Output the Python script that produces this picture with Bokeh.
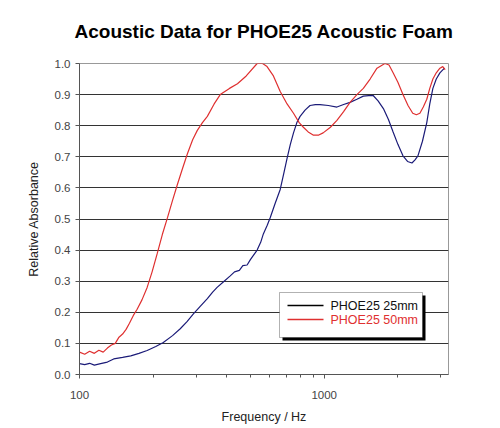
from bokeh.plotting import figure
from bokeh.models import (FixedTicker, NumeralTickFormatter, BoxAnnotation, Label,
                          Arrow, Range1d)
from bokeh.embed import file_html
from bokeh.resources import INLINE

# ---- data ----
freq_50 = [100, 105, 110, 115, 120, 125, 130, 135, 140, 145, 150, 155, 160, 166,
           172, 180, 189, 198, 208, 218, 229, 240, 251, 263, 276, 290, 303, 318,
           333, 355, 376, 410, 442, 480, 532, 560, 584, 620, 661, 705, 749, 790,
           822, 860, 901, 950, 990, 1060, 1127, 1200, 1275, 1360, 1445, 1540,
           1643, 1770, 1840, 1912, 2000, 2098, 2200, 2300, 2380, 2460, 2540,
           2625, 2700, 2780, 2870, 2970, 3050, 3120]
abs_50 = [0.072, 0.065, 0.075, 0.068, 0.078, 0.072, 0.085, 0.095, 0.10, 0.12,
          0.13, 0.145, 0.165, 0.19, 0.21, 0.24, 0.28, 0.33, 0.39, 0.45, 0.505,
          0.56, 0.61, 0.66, 0.71, 0.755, 0.785, 0.81, 0.83, 0.87, 0.90, 0.92,
          0.935, 0.96, 1.0, 1.0, 0.99, 0.96, 0.91, 0.87, 0.84, 0.81, 0.795,
          0.78, 0.77, 0.77, 0.777, 0.795, 0.817, 0.845, 0.875, 0.90, 0.92,
          0.95, 0.985, 1.0, 0.995, 0.97, 0.94, 0.90, 0.865, 0.84, 0.835, 0.84,
          0.86, 0.885, 0.92, 0.95, 0.97, 0.985, 0.99, 0.98]

freq_25 = [100, 105, 110, 115, 122, 130, 138, 150, 162, 175, 189, 205, 220, 240,
           258, 275, 292, 312, 333, 350, 365, 390, 413, 430, 450, 465, 484, 500,
           532, 550, 564, 585, 602, 630, 661, 685, 705, 727, 749, 773, 797, 835,
           875, 920, 961, 1040, 1127, 1200, 1275, 1360, 1445, 1520, 1585, 1660,
           1745, 1830, 1912, 2000, 2098, 2190, 2283, 2350, 2415, 2520, 2625,
           2700, 2780, 2870, 2970, 3100]
abs_25 = [0.035, 0.032, 0.036, 0.030, 0.035, 0.040, 0.050, 0.055, 0.060, 0.068,
          0.077, 0.090, 0.103, 0.125, 0.147, 0.17, 0.195, 0.22, 0.244, 0.265,
          0.28, 0.30, 0.317, 0.33, 0.335, 0.35, 0.352, 0.37, 0.40, 0.425, 0.452,
          0.48, 0.505, 0.55, 0.595, 0.65, 0.695, 0.74, 0.777, 0.81, 0.83, 0.85,
          0.865, 0.868, 0.868, 0.865, 0.86, 0.868, 0.875, 0.885, 0.895, 0.897,
          0.897, 0.88, 0.855, 0.82, 0.78, 0.74, 0.703, 0.685, 0.68, 0.69,
          0.703, 0.75, 0.81, 0.87, 0.92, 0.95, 0.97, 0.985]

x_major = [100, 1000]
x_minor = [200, 300, 400, 500, 600, 700, 800, 900, 2000, 3000]
y_ticks = [0.0, 0.1, 0.2, 0.3, 0.4, 0.5, 0.6, 0.7, 0.8, 0.9, 1.0]
series_names = ["PHOE25 25mm", "PHOE25 50mm"]
title_text = "Acoustic Data for PHOE25 Acoustic Foam"

FONT = "Liberation Sans"
RED = "#df3030"
NAVY = "#1b1b78"

p = figure(width=500, height=428, x_axis_type="log",
           x_range=Range1d(100, 3220), y_range=Range1d(0, 1.0),
           output_backend="svg", toolbar_location=None,
           min_border_left=79, min_border_right=52,
           min_border_top=63, min_border_bottom=54,
           background_fill_color="white", border_fill_color="white")

p.title.text = title_text
p.title.align = "center"
p.title.vertical_align = "top"
p.title.text_font = FONT
p.title.text_font_size = "19px"
p.title.text_font_style = "bold"
p.title.text_color = "black"
p.title.standoff = 40

p.outline_line_color = "#999999"

p.line(freq_25, abs_25, line_color=NAVY, line_width=1.2)
p.line(freq_50, abs_50, line_color=RED, line_width=1.2)

# axes
xax = p.below[0]
yax = p.left[0]
xax.ticker = FixedTicker(ticks=x_major, minor_ticks=x_minor)
xax.formatter = NumeralTickFormatter(format="0")
yax.ticker = FixedTicker(ticks=y_ticks)
yax.formatter = NumeralTickFormatter(format="0.0")
for ax in (xax, yax):
    ax.axis_line_color = "#555555"
    ax.major_tick_line_color = "#555555"
    ax.minor_tick_line_color = "#555555"
    ax.major_tick_in = 0
    ax.major_tick_out = 4
    ax.minor_tick_in = 0
    ax.minor_tick_out = 3
    ax.major_label_text_font = FONT
    ax.major_label_text_font_size = "11.5px"
    ax.major_label_text_color = "#444444"
    ax.axis_label_text_font = FONT
    ax.axis_label_text_font_size = "12.5px"
    ax.axis_label_text_font_style = "normal"
    ax.axis_label_text_color = "#222222"

xax.axis_label = "Frequency / Hz"
xax.major_label_standoff = 12
xax.axis_label_standoff = 8
yax.axis_label = "Relative Absorbance"
yax.major_label_standoff = 5
yax.axis_label_standoff = 11
yax.minor_tick_out = 0

p.xgrid.visible = False
p.ygrid.ticker = FixedTicker(ticks=y_ticks)
p.ygrid.grid_line_color = "#333333"
p.ygrid.grid_line_width = 1

# legend (boxed, with shadow, coloured text)
p.add_layout(BoxAnnotation(left=203, right=346, bottom=34, top=79,
                           left_units="screen", right_units="screen",
                           bottom_units="screen", top_units="screen",
                           fill_color="black", fill_alpha=1, line_color=None))
p.add_layout(BoxAnnotation(left=200, right=343, bottom=37, top=82,
                           left_units="screen", right_units="screen",
                           bottom_units="screen", top_units="screen",
                           fill_color="white", fill_alpha=1,
                           line_color="black", line_width=1))
for name, col, txtcol, yy in [(series_names[0], "black", "#111111", 69),
                               (series_names[1], RED, RED, 55)]:
    p.add_layout(Arrow(x_start=208, y_start=yy, x_end=244, y_end=yy,
                       start_units="screen", end_units="screen",
                       start=None, end=None, line_color=col, line_width=1.6))
    p.add_layout(Label(x=251, y=yy, x_units="screen", y_units="screen",
                       text=name, text_font=FONT, text_font_size="12.5px",
                       text_color=txtcol, text_baseline="middle"))

open("out.html", "w").write(file_html(p, INLINE))
